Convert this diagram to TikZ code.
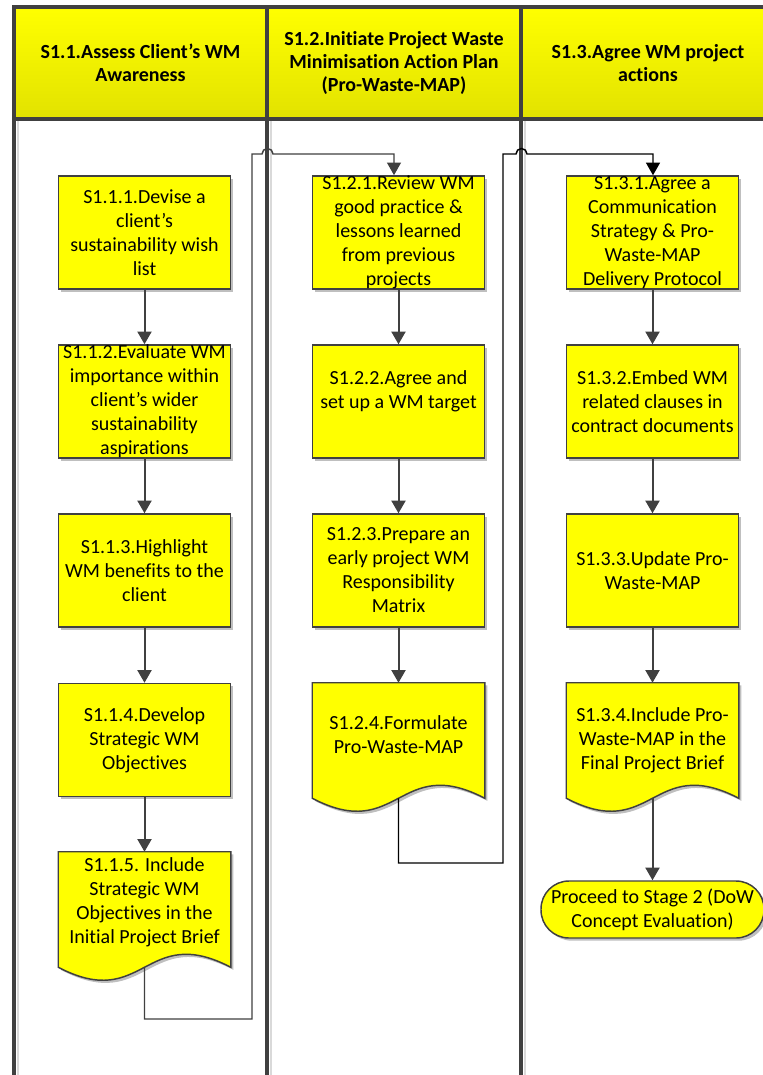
\documentclass[tikz,border=0pt]{standalone}
\usepackage{fontspec}
\setmainfont{Carlito}[Ligatures=NoCommon]
\usetikzlibrary{arrows.meta,shadows,calc}
\definecolor{edge}{HTML}{404040}
\definecolor{boxyellow}{HTML}{FFFF00}
\definecolor{hdrbottom}{HTML}{E2E200}

% document-shaped outline (wavy bottom) around an empty frame node
\newcommand\docoutline[1]{%
  \fill[black, opacity=0.25, transform canvas={xshift=2pt,yshift=-2pt}]
    (#1.north west) -- (#1.north east) -- (#1.south east)
    .. controls ($(#1.south)+(0,-45)$) and ($(#1.south)+(0,45)$) .. (#1.south west) -- cycle;
  \draw[docfill]
    (#1.north west) -- (#1.north east) -- (#1.south east)
    .. controls ($(#1.south)+(0,-45)$) and ($(#1.south)+(0,45)$) .. (#1.south west) -- cycle;
}

\begin{document}
\begin{tikzpicture}[x=0.75pt,y=-0.75pt,
  every node/.style={font=\fontsize{15pt}{18pt}\selectfont, align=center, inner sep=0pt},
  stepbox/.style={draw=edge, line width=1.1pt, fill=boxyellow,
    minimum width=129pt, minimum height=84.75pt,
    drop shadow={shadow xshift=2pt, shadow yshift=-2pt, opacity=0.25, fill=black}},
  docframe/.style={minimum width=129pt, minimum height=86.25pt},
  docfill/.style={draw=edge, line width=1.1pt, fill=boxyellow},
  termbox/.style={draw=edge, line width=1.1pt, fill=boxyellow,
    minimum width=167.25pt, minimum height=42.75pt, rounded corners=21pt,
    drop shadow={shadow xshift=2pt, shadow yshift=-2pt, opacity=0.25, fill=black}},
  header/.style={minimum height=84pt, top color=boxyellow, bottom color=hdrbottom,
    font=\fontsize{15pt}{17.5pt}\selectfont\bfseries},
  lane/.style={draw=edge, line width=3pt},
  laneshade/.style={draw=black!15, line width=1.5pt},
  flow/.style={draw=edge, line width=1.5pt, -{Triangle[width=10.5pt,length=9.5pt]}},
  link/.style={line width=1.1pt, -{Triangle[width=10.5pt,length=9.5pt]}}
]
\clip (0,0) rectangle (763,1075);
\fill[white] (0,0) rectangle (763,1075);

% lane headers
\node[header, minimum width=189.75pt] (h1) at (140.5,63) {S1.1.Assess Client’s WM\\Awareness};
\node[header, minimum width=190.5pt] (h2) at (394,63) {S1.2.Initiate Project Waste\\Minimisation Action Plan\\(Pro-Waste-MAP)};
\node[header, minimum width=190.5pt] (h3) at (648,63) {S1.3.Agree WM project\\actions};

% lane frame
\draw[laneshade] (18,121) -- (18,1077);
\draw[laneshade] (270.5,121) -- (270.5,1077);
\draw[laneshade] (524.5,121) -- (524.5,1077);
\draw[lane] (14,7) rectangle (775,1077);
\draw[lane] (14,119) -- (775,119);
\draw[lane] (267,7) -- (267,1077);
\draw[lane] (521,7) -- (521,1077);

% lane 1
\node[stepbox] (r111) at (144.5,232.5) {S1.1.1.Devise a\\client’s\\sustainability wish\\list};
\node[stepbox] (r112) at (144.5,401.5) {S1.1.2.Evaluate WM\\importance within\\client’s wider\\sustainability\\aspirations};
\node[stepbox] (r113) at (144.5,570.5) {S1.1.3.Highlight\\WM benefits to the\\client};
\node[stepbox] (r114) at (144.5,740) {S1.1.4.Develop\\Strategic WM\\Objectives};
\node[docframe] (r115) at (144.5,909.5) {};
\docoutline{r115}
\node (r115text) at (144.5,902) {S1.1.5. Include\\Strategic WM\\Objectives in the\\Initial Project Brief};

% lane 2
\node[stepbox] (r121) at (398.5,232.5) {S1.2.1.Review WM\\good practice \&\\lessons learned\\from previous\\projects};
\node[stepbox] (r122) at (398.5,401.5) {S1.2.2.Agree and\\set up a WM target\\\mbox{}};
\node[stepbox] (r123) at (398.5,570.5) {S1.2.3.Prepare an\\early project WM\\Responsibility\\Matrix};
\node[docframe] (r124) at (398.5,740.5) {};
\docoutline{r124}
\node (r124text) at (398.5,735) {S1.2.4.Formulate\\Pro-Waste-MAP};

% lane 3
\node[stepbox] (r131) at (652.5,232.5) {S1.3.1.Agree a\\Communication\\Strategy \& Pro-\\Waste-MAP\\Delivery Protocol};
\node[stepbox] (r132) at (652.5,401.5) {S1.3.2.Embed WM\\related clauses in\\contract documents};
\node[stepbox] (r133) at (652.5,570.5) {S1.3.3.Update Pro-\\Waste-MAP};
\node[docframe] (r134) at (652.5,740.5) {};
\docoutline{r134}
\node (r134text) at (652.5,740) {S1.3.4.Include Pro-\\Waste-MAP in the\\Final Project Brief};
\node[termbox] (fin) at (652.5,909.5) {Proceed to Stage 2 (DoW\\Concept Evaluation)};

% flow within lanes
\draw[flow] (r111.south) -- (r112.north);
\draw[flow] (r112.south) -- (r113.north);
\draw[flow] (r113.south) -- (r114.north);
\draw[flow] (r114.south) -- (r115.north);
\draw[flow] (r121.south) -- (r122.north);
\draw[flow] (r122.south) -- (r123.north);
\draw[flow] (r123.south) -- (r124.north);
\draw[flow] (r131.south) -- (r132.north);
\draw[flow] (r132.south) -- (r133.north);
\draw[flow] (r133.south) -- (r134.north);
\draw[flow] (r134.south) -- (fin.north);

% links between lanes, hopping over the lane dividers
\coordinate (a1) at (252,1019);
\coordinate (j1) at (267.5,154);
\coordinate (t1) at (394,154);
\draw[link, draw=edge] (r115.south) |- (a1) |- ($(j1)+(-5.5,0)$)
  arc[start angle=180, end angle=360, radius=5.5] -- (t1) -- (t1 |- r121.north);

\coordinate (a2) at (503,863);
\coordinate (j2) at (521.5,154);
\coordinate (t2) at (653,154);
\draw[link, draw=black] (r124.south) |- (a2) |- ($(j2)+(-5.5,0)$)
  arc[start angle=180, end angle=360, radius=5.5] -- (t2) -- (t2 |- r131.north);
\end{tikzpicture}
\end{document}
